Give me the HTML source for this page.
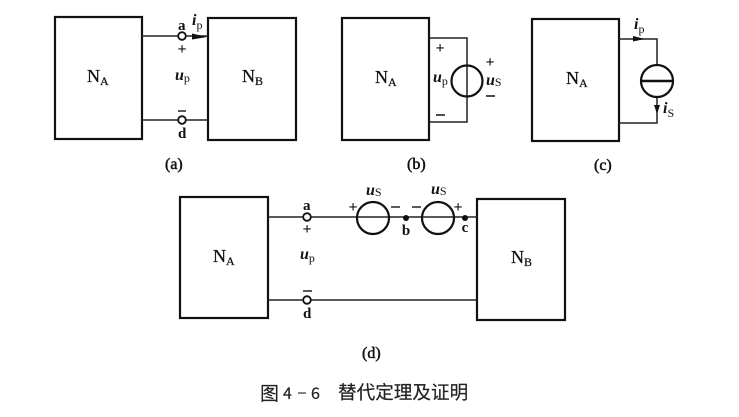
<!DOCTYPE html>
<html>
<head>
<meta charset="utf-8">
<style>
html,body{margin:0;padding:0;background:#fff;}
svg{display:block;filter:blur(.3px);}
text{font-family:"Liberation Serif","Noto Serif CJK SC",serif;fill:#111;}
.b{font-weight:bold;}
.n{stroke:#111;stroke-width:.25;}
.l{stroke:#111;stroke-width:.5;}
.p{font-weight:bold;font-size:16px;text-anchor:middle;}
.i{font-style:italic;font-weight:bold;font-size:16px;}
.s{font-size:12px;font-style:normal;font-weight:normal;}
.box{fill:none;stroke:#111;stroke-width:2.2;}
.w{fill:none;stroke:#222;stroke-width:1.5;}
.c{fill:none;stroke:#111;stroke-width:2.2;}
.o{fill:#fff;stroke:#111;stroke-width:1.8;}
.cap{font-family:"Noto Sans CJK SC","Liberation Sans",sans-serif;fill:#222;stroke:#222;stroke-width:.2;}
</style>
</head>
<body>
<svg width="739" height="417" viewBox="0 0 739 417" xmlns="http://www.w3.org/2000/svg">
<rect width="739" height="417" fill="#fff"/>

<!-- (a) -->
<rect class="box" x="55" y="17" width="87" height="122"/>
<rect class="box" x="208" y="18" width="88" height="122"/>
<path class="w" d="M142 36H208M142 120H208"/>
<circle class="o" cx="182" cy="36" r="3.8"/>
<circle class="o" cx="182" cy="120" r="3.8"/>
<path d="M192 33.5L207 37L192 39.5Z" fill="#111"/>
<text class="n" x="87" y="82" font-size="18">N<tspan class="s" dy="3">A</tspan></text>
<text class="n" x="242" y="82" font-size="18">N<tspan class="s" dy="3">B</tspan></text>
<text x="178" y="30" font-size="15" class="b">a</text>
<text x="192" y="25" class="i">i<tspan class="s" dy="4">p</tspan></text>
<text x="182" y="54" class="p">+</text>
<text x="175" y="80" class="i">u<tspan class="s" dy="2">p</tspan></text>
<path d="M178 111H186" stroke="#222" stroke-width="1.5"/>
<text x="178" y="138" font-size="15" class="b">d</text>
<text x="165" y="169" font-size="16" class="l">(a)</text>

<!-- (b) -->
<rect class="box" x="342" y="18" width="87" height="122"/>
<path class="w" d="M429 38H467V122H429"/>
<circle class="c" cx="467" cy="81" r="15.5"/>
<text class="n" x="375" y="83" font-size="18">N<tspan class="s" dy="3">A</tspan></text>
<text x="440" y="53" class="p">+</text>
<path d="M436 115H445" stroke="#222" stroke-width="1.6"/>
<text x="433" y="82" class="i">u<tspan class="s" dy="3">p</tspan></text>
<text x="490" y="67" class="p">+</text>
<text x="486" y="85" class="i">u<tspan class="s" dy="1">S</tspan></text>
<path d="M486 96H495" stroke="#222" stroke-width="1.6"/>
<text x="407" y="169" font-size="16" class="l">(b)</text>

<!-- (c) -->
<rect class="box" x="532" y="19" width="87" height="122"/>
<path class="w" d="M619 39H657V65M657 97V123H619"/>
<path d="M633 36L645 39L633 41.5Z" fill="#111"/>
<path d="M654 105L657 114L660 105Z" fill="#111"/>
<circle class="c" cx="657" cy="81" r="16"/>
<path d="M641 81H673" stroke="#111" stroke-width="2.4"/>
<text class="n" x="566" y="84" font-size="18">N<tspan class="s" dy="3">A</tspan></text>
<text x="634" y="29" class="i">i<tspan class="s" dy="4">p</tspan></text>
<text x="663" y="113" class="i">i<tspan class="s" dy="4">S</tspan></text>
<text x="594" y="170" font-size="16" class="l">(c)</text>

<!-- (d) -->
<rect class="box" x="180" y="197" width="88" height="121"/>
<rect class="box" x="477" y="199" width="88" height="121"/>
<path class="w" d="M268 217H303M311 217H477M268 300H303M311 300H477"/>
<circle class="o" cx="307" cy="217" r="3.8"/>
<circle class="o" cx="307" cy="300" r="3.8"/>
<circle class="c" cx="373" cy="218" r="16"/>
<circle class="c" cx="438" cy="218" r="16"/>
<circle cx="406" cy="218" r="3" fill="#111"/>
<circle cx="465" cy="218" r="3" fill="#111"/>
<text class="n" x="213" y="262" font-size="18">N<tspan class="s" dy="3">A</tspan></text>
<text class="n" x="511" y="263" font-size="18">N<tspan class="s" dy="3">B</tspan></text>
<text x="303" y="210" font-size="15" class="b">a</text>
<text x="307" y="234" class="p">+</text>
<text x="300" y="259" class="i">u<tspan class="s" dy="3">p</tspan></text>
<path d="M303 291H312" stroke="#222" stroke-width="1.5"/>
<text x="303" y="318" font-size="15" class="b">d</text>
<text x="366" y="195" class="i">u<tspan class="s" dy="1">S</tspan></text>
<text x="431" y="194" class="i">u<tspan class="s" dy="1">S</tspan></text>
<text x="353" y="212" class="p">+</text>
<path d="M391 207H400" stroke="#222" stroke-width="1.5"/>
<path d="M412 207H421" stroke="#222" stroke-width="1.5"/>
<text x="458" y="212" class="p">+</text>
<text x="406" y="235" font-size="15" class="b" text-anchor="middle">b</text>
<text x="465" y="232" font-size="15" class="b" text-anchor="middle">c</text>
<text x="362" y="358" font-size="16" class="l">(d)</text>

<!-- caption -->
<text class="cap" x="260" y="400" font-size="19">图</text>
<text class="cap" x="283" y="399" font-size="16">4</text>
<path d="M298 393H306" stroke="#333" stroke-width="1.2"/>
<text class="cap" x="311" y="399" font-size="16">6</text>
<text class="cap" x="338" y="399" font-size="18.6">替代定理及证明</text>
</svg>
</body>
</html>
